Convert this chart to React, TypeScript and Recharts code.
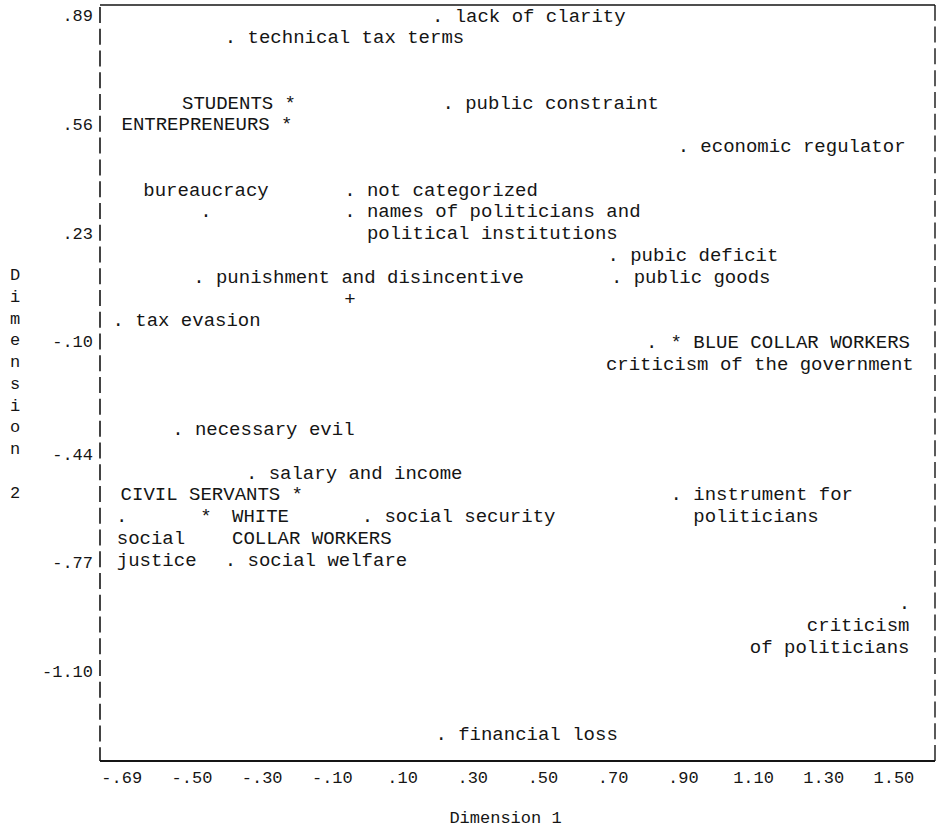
import React from 'react';
import { ScatterChart, Scatter, XAxis, YAxis, ReferenceLine } from 'recharts';

// ---- data ----
const pointLabels = [
  'lack of clarity',
  'technical tax terms',
  'STUDENTS',
  'public constraint',
  'ENTREPRENEURS',
  'economic regulator',
  'bureaucracy',
  'not categorized',
  'names of politicians and|political institutions',
  'pubic deficit',
  'punishment and disincentive',
  'public goods',
  '',
  'tax evasion',
  'criticism of the government',
  'BLUE COLLAR WORKERS',
  'necessary evil',
  'salary and income',
  'CIVIL SERVANTS',
  'instrument for|politicians',
  'social|justice',
  'WHITE|COLLAR WORKERS',
  'social security',
  'social welfare',
  'criticism|of politicians',
  'financial loss',
];
const dimension1 = [0.2, -0.39, -0.22, 0.23, -0.23, 0.9, -0.46, -0.05, -0.05, 0.7, -0.48, 0.71, -0.05, -0.71, 0.81, 0.88, -0.54, -0.33, -0.2, 0.88, -0.7, -0.46, 0.0, -0.39, 1.53, 0.21];
const dimension2 = [0.89, 0.824, 0.626, 0.626, 0.56, 0.494, 0.296, 0.362, 0.296, 0.164, 0.098, 0.098, 0.032, -0.034, -0.1, -0.1, -0.364, -0.496, -0.562, -0.562, -0.628, -0.628, -0.628, -0.76, -0.892, -1.288];
const markers = ['.', '.', '*', '.', '*', '.', '.', '.', '.', '.', '.', '.', '+', '.', '.', '*', '.', '.', '*', '.', '.', '*', '.', '.', '.', '.'];

const xTickValues = [-0.7, -0.5, -0.3, -0.1, 0.1, 0.3, 0.5, 0.7, 0.9, 1.1, 1.3, 1.5];
const xTickLabels = ['-.69', '-.50', '-.30', '-.10', '.10', '.30', '.50', '.70', '.90', '1.10', '1.30', '1.50'];
const yTickValues = [0.89, 0.56, 0.23, -0.1, -0.44, -0.77, -1.1];
const yTickLabels = ['.89', '.56', '.23', '-.10', '-.44', '-.77', '-1.10'];
const xDomain = [-0.762, 1.617];
const yDomain = [-1.372, 0.92];

// ---- styles ----
const FONT = '"Liberation Mono", "DejaVu Sans Mono", monospace';
const INK = '#151515';
const ROW = 21.77;
const FS = 19;
type Place = { anchor: 'start' | 'end' | 'middle'; dx: number; dRow: number };
const DEFAULT_PLACE: Place = { anchor: 'start', dx: 17, dRow: 0 };
const PLACES: Record<number, Place> = {
  2: { anchor: 'end', dx: -17, dRow: 0 },
  4: { anchor: 'end', dx: -17, dRow: 0 },
  18: { anchor: 'end', dx: -17, dRow: 0 },
  6: { anchor: 'middle', dx: 0, dRow: -1 },
  14: { anchor: 'end', dx: 262, dRow: 1 },
  20: { anchor: 'start', dx: -5, dRow: 1 },
  21: { anchor: 'start', dx: 26, dRow: 0 },
  24: { anchor: 'end', dx: 5, dRow: 1 },
};

const data = pointLabels.map((label, i) => ({
  idx: i,
  label,
  marker: markers[i],
  x: dimension1[i],
  y: dimension2[i],
}));

const PointMark = (props: any) => {
  const { cx, cy, payload } = props;
  if (cx == null || cy == null) return null;
  const place = PLACES[payload.idx] || DEFAULT_PLACE;
  const lines = payload.label ? payload.label.split('|') : [];
  return (
    <g>
      <text x={cx} y={cy} dy="0.35em" textAnchor="middle" fontFamily={FONT} fontSize={FS} fill={INK}>
        {payload.marker}
      </text>
      {lines.map((ln: string, k: number) => (
        <text
          key={k}
          x={cx + place.dx}
          y={cy + (place.dRow + k) * ROW}
          dy="0.35em"
          textAnchor={place.anchor}
          fontFamily={FONT}
          fontSize={FS}
          fill={INK}
        >
          {ln}
        </text>
      ))}
    </g>
  );
};

const XTick = (props: any) => {
  const { x, y, payload } = props;
  const i = xTickValues.findIndex((v) => Math.abs(v - payload.value) < 1e-6);
  return (
    <text x={x} y={y + 16} dy="0.35em" textAnchor="middle" fontFamily={FONT} fontSize={17} fill={INK}>
      {i >= 0 ? xTickLabels[i] : ''}
    </text>
  );
};

const YTick = (props: any) => {
  const { y, payload } = props;
  const i = yTickValues.findIndex((v) => Math.abs(v - payload.value) < 1e-6);
  return (
    <text x={93} y={y} dy="0.35em" textAnchor="end" fontFamily={FONT} fontSize={17} fill={INK}>
      {i >= 0 ? yTickLabels[i] : ''}
    </text>
  );
};

const yTitle = 'Dimension 2';

export default function App() {
  return (
    <div style={{ position: 'absolute', left: 0, top: 0, background: '#fff' }}>
      <ScatterChart width={939} height={830} margin={{ top: 5, right: 4, bottom: 0, left: 0 }}>
        <XAxis
          type="number"
          dataKey="x"
          domain={xDomain}
          ticks={xTickValues}
          allowDataOverflow
          tickSize={0}
          tickMargin={0}
          tick={<XTick />}
          height={69}
          axisLine={{ stroke: INK, strokeWidth: 2 }}
          tickLine={false}
          label={{
            value: 'Dimension 1',
            content: (p: any) => {
              const vb = p.viewBox || { x: 100, y: 761, width: 835, height: 69 };
              return (
                <text x={vb.x + vb.width / 2 - 12} y={817} dy="0.35em" textAnchor="middle" fontFamily={FONT} fontSize={17} fill={INK}>
                  Dimension 1
                </text>
              );
            },
          }}
        />
        <YAxis
          type="number"
          dataKey="y"
          domain={yDomain}
          ticks={yTickValues}
          allowDataOverflow
          width={100}
          tickSize={0}
          tickMargin={0}
          tick={<YTick />}
          tickLine={false}
          axisLine={{ stroke: INK, strokeWidth: 1.6, strokeDasharray: '16 5.77', strokeDashoffset: -2 }}
          label={{
            value: yTitle,
            content: (p: any) => {
              const vb = p.viewBox || { x: 0, y: 5, width: 100, height: 756 };
              const chars = yTitle.split('');
              const cyc = vb.y + vb.height / 2;
              const start = cyc - ((chars.length - 1) / 2) * ROW;
              return (
                <g>
                  {chars.map((c, k) => (
                    <text key={k} x={15} y={start + k * ROW} dy="0.35em" textAnchor="middle" fontFamily={FONT} fontSize={17} fill={INK}>
                      {c}
                    </text>
                  ))}
                </g>
              );
            },
          }}
        />
        <ReferenceLine y={yDomain[1]} stroke={INK} strokeWidth={1.5} ifOverflow="extendDomain" />
        <ReferenceLine x={xDomain[1]} stroke={INK} strokeWidth={1.4} strokeDasharray="16 5.77" ifOverflow="extendDomain" />
        <Scatter data={data} isAnimationActive={false} shape={<PointMark />} />
      </ScatterChart>
    </div>
  );
}
